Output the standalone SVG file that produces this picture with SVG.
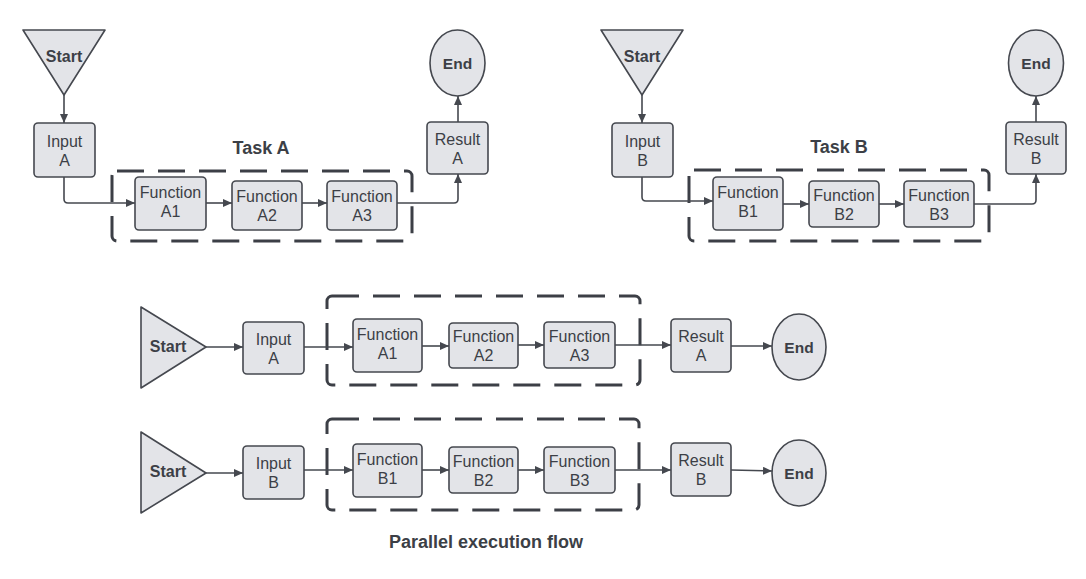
<svg xmlns="http://www.w3.org/2000/svg" width="1086" height="579" viewBox="0 0 1086 579">
<style>
  .shape{fill:#e3e4e8;stroke:#45484f;stroke-width:1.6}
  .t{font-family:"Liberation Sans",Arial,sans-serif;font-size:16px;fill:#3c3f46;text-anchor:middle}
  .b{font-weight:bold}
  .title{font-family:"Liberation Sans",Arial,sans-serif;font-size:18px;font-weight:bold;fill:#3c3f46;text-anchor:middle}
  .dash{fill:none;stroke:#3c3f46;stroke-width:3;stroke-dasharray:27 14}
  .c{fill:none;stroke:#45484f;stroke-width:1.6;marker-end:url(#ah)}
</style>
<defs>
  <marker id="ah" markerWidth="10" markerHeight="8" refX="9" refY="4" orient="auto" markerUnits="userSpaceOnUse">
    <path d="M0,0 L9,4 L0,8 z" fill="#45484f"/>
  </marker>
</defs>
<rect width="1086" height="579" fill="#ffffff"/>

<!-- group containers -->
<g id="taskA-box"><rect class="dash" x="112" y="171" width="300" height="70" rx="5"/></g>
<g id="taskB-box"><rect class="dash" x="689" y="170" width="300" height="71" rx="5"/></g>
<g id="parA-box"><rect class="dash" x="327" y="296" width="313" height="89" rx="5"/></g>
<g id="parB-box"><rect class="dash" x="327" y="419" width="312" height="91" rx="5"/></g>

<g id="connectors">
  <!-- Task A -->
  <path class="c" d="M64,95 V123"/>
  <path class="c" d="M64,177 V199 Q64,203 68,203 H135"/>
  <path class="c" d="M206,203 H232"/>
  <path class="c" d="M302,203 H327"/>
  <path class="c" d="M397,203 H454 Q458,203 458,199 V174"/>
  <path class="c" d="M458,122 V96"/>
  <!-- Task B -->
  <path class="c" d="M642,95 V123"/>
  <path class="c" d="M642,177 V197 Q642,201 646,201 H713"/>
  <path class="c" d="M783,204 H809"/>
  <path class="c" d="M879,204 H904"/>
  <path class="c" d="M974,204 H1032 Q1036,204 1036,200 V174"/>
  <path class="c" d="M1036,122 V96"/>
  <!-- Parallel A -->
  <path class="c" d="M206,347 H243"/>
  <path class="c" d="M304,347 H353"/>
  <path class="c" d="M422,346 H449"/>
  <path class="c" d="M518,345 H544"/>
  <path class="c" d="M615,345 H671"/>
  <path class="c" d="M731,346 H772"/>
  <!-- Parallel B -->
  <path class="c" d="M206,473 H243"/>
  <path class="c" d="M304,470 H353"/>
  <path class="c" d="M422,470 H449"/>
  <path class="c" d="M518,470 H544"/>
  <path class="c" d="M615,470 H671"/>
  <path class="c" d="M731,470 L772,471"/>
</g>

<!-- Titles -->
<text class="title" x="261" y="154">Task A</text>
<text class="title" x="839" y="153">Task B</text>
<text class="title" x="486" y="548">Parallel execution flow</text>

<!-- Task A nodes -->
<g id="startA"><polygon class="shape" points="23,30 105,30 64,95" stroke-linejoin="round"/><text class="t b" x="64" y="62">Start</text></g>
<g id="inputA"><rect class="shape" x="34" y="123" width="61" height="54" rx="4"/><text class="t" x="64.5" y="147">Input</text><text class="t" x="64.5" y="166">A</text></g>
<g id="fA1"><rect class="shape" x="135" y="177" width="71" height="53" rx="4"/><text class="t" x="170.5" y="198">Function</text><text class="t" x="170.5" y="217">A1</text></g>
<g id="fA2"><rect class="shape" x="232" y="181" width="70" height="49" rx="4"/><text class="t" x="267" y="202">Function</text><text class="t" x="267" y="221">A2</text></g>
<g id="fA3"><rect class="shape" x="327" y="181" width="70" height="49" rx="4"/><text class="t" x="362" y="202">Function</text><text class="t" x="362" y="221">A3</text></g>
<g id="resultA"><rect class="shape" x="427" y="122" width="61" height="52" rx="4"/><text class="t" x="457.5" y="145">Result</text><text class="t" x="457.5" y="164">A</text></g>
<g id="endA"><ellipse class="shape" cx="457.5" cy="63" rx="27.5" ry="33"/><text class="t b" x="457.5" y="68.5" style="font-size:15.5px">End</text></g>

<!-- Task B nodes -->
<g id="startB"><polygon class="shape" points="601,30 683,30 642,95" stroke-linejoin="round"/><text class="t b" x="642" y="62">Start</text></g>
<g id="inputB"><rect class="shape" x="612" y="123" width="61" height="54" rx="4"/><text class="t" x="642.5" y="147">Input</text><text class="t" x="642.5" y="166">B</text></g>
<g id="fB1"><rect class="shape" x="713" y="177" width="70" height="53" rx="4"/><text class="t" x="748" y="198">Function</text><text class="t" x="748" y="217">B1</text></g>
<g id="fB2"><rect class="shape" x="809" y="181" width="70" height="46" rx="4"/><text class="t" x="844" y="201">Function</text><text class="t" x="844" y="220">B2</text></g>
<g id="fB3"><rect class="shape" x="904" y="181" width="70" height="46" rx="4"/><text class="t" x="939" y="201">Function</text><text class="t" x="939" y="220">B3</text></g>
<g id="resultB"><rect class="shape" x="1006" y="122" width="60" height="52" rx="4"/><text class="t" x="1036" y="145">Result</text><text class="t" x="1036" y="164">B</text></g>
<g id="endB"><ellipse class="shape" cx="1036" cy="63" rx="27.5" ry="33"/><text class="t b" x="1036" y="68.5" style="font-size:15.5px">End</text></g>

<!-- Parallel row A -->
<g id="pStartA"><polygon class="shape" points="141,307 141,388 206,347" stroke-linejoin="round"/><text class="t b" x="168" y="352">Start</text></g>
<g id="pInputA"><rect class="shape" x="243" y="322" width="61" height="52" rx="4"/><text class="t" x="273.5" y="345">Input</text><text class="t" x="273.5" y="364">A</text></g>
<g id="pfA1"><rect class="shape" x="353" y="319" width="69" height="53" rx="4"/><text class="t" x="387.5" y="340">Function</text><text class="t" x="387.5" y="359">A1</text></g>
<g id="pfA2"><rect class="shape" x="449" y="323" width="69" height="45" rx="4"/><text class="t" x="483.5" y="342">Function</text><text class="t" x="483.5" y="361">A2</text></g>
<g id="pfA3"><rect class="shape" x="544" y="322" width="71" height="46" rx="4"/><text class="t" x="579.5" y="342">Function</text><text class="t" x="579.5" y="361">A3</text></g>
<g id="pResultA"><rect class="shape" x="671" y="319" width="60" height="53" rx="4"/><text class="t" x="701" y="342">Result</text><text class="t" x="701" y="361">A</text></g>
<g id="pEndA"><ellipse class="shape" cx="799" cy="347" rx="27" ry="33"/><text class="t b" x="799" y="352.5" style="font-size:15.5px">End</text></g>

<!-- Parallel row B -->
<g id="pStartB"><polygon class="shape" points="141,432 141,513 206,473" stroke-linejoin="round"/><text class="t b" x="168" y="477">Start</text></g>
<g id="pInputB"><rect class="shape" x="243" y="446" width="61" height="53" rx="4"/><text class="t" x="273.5" y="469">Input</text><text class="t" x="273.5" y="488">B</text></g>
<g id="pfB1"><rect class="shape" x="353" y="444" width="69" height="53" rx="4"/><text class="t" x="387.5" y="465">Function</text><text class="t" x="387.5" y="484">B1</text></g>
<g id="pfB2"><rect class="shape" x="449" y="447" width="69" height="46" rx="4"/><text class="t" x="483.5" y="467">Function</text><text class="t" x="483.5" y="486">B2</text></g>
<g id="pfB3"><rect class="shape" x="544" y="447" width="71" height="46" rx="4"/><text class="t" x="579.5" y="467">Function</text><text class="t" x="579.5" y="486">B3</text></g>
<g id="pResultB"><rect class="shape" x="671" y="443" width="60" height="53" rx="4"/><text class="t" x="701" y="466">Result</text><text class="t" x="701" y="485">B</text></g>
<g id="pEndB"><ellipse class="shape" cx="799" cy="473" rx="27" ry="33"/><text class="t b" x="799" y="478.5" style="font-size:15.5px">End</text></g>
</svg>
